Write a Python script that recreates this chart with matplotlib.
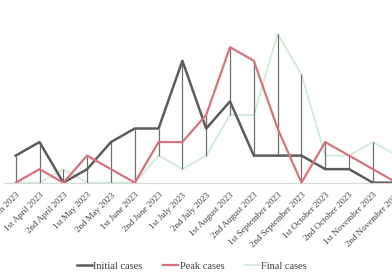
import matplotlib
matplotlib.use("Agg")
import matplotlib.pyplot as plt
import numpy as np

categories = ["2nd March 2023", "1st April 2023", "2nd April 2023", "1st May 2023",
              "2nd May 2023", "1st June 2023", "2nd June 2023", "1st July 2023",
              "2nd July 2023", "1st August 2023", "2nd August 2023",
              "1st September 2023", "2nd September 2023", "1st October 2023",
              "2nd October 2023", "1st November 2023", "2nd November 2023"]
initial_cases = [2, 3, 0, 1, 3, 4, 4, 9, 4, 6, 2, 2, 2, 1, 1, 0, 0]
peak_cases = [0, 1, 0, 2, 1, 0, 3, 3, 5, 10, 9, 4, 0, 3, 2, 1, 0]
final_cases = [0, 0, 1, 0, 0, 0, 2, 1, 2, 5, 5, 11, 8, 2, 2, 3, 2]

plt.rcParams['font.family'] = ['Liberation Serif', 'DejaVu Serif']

fig = plt.figure(figsize=(3.92, 2.72), dpi=100)
ax = fig.add_axes([3.8 / 392, 89.3 / 272, 404.8 / 392, 162.6 / 272])

x = np.arange(len(categories))
hi = np.maximum.reduce([initial_cases, peak_cases, final_cases])
lo = np.minimum.reduce([initial_cases, peak_cases, final_cases])
ax.vlines(x, lo, hi, color='#707070', linewidth=0.9, zorder=2)

ax.plot(x, final_cases, color='#d2ead8', linewidth=1.3, label='Final cases', zorder=1)
ax.plot(x, initial_cases, color='#5c5c5c', linewidth=1.8, label='Initial cases', zorder=3)
ax.plot(x, peak_cases, color='#d6737f', linewidth=1.6, label='Peak cases', zorder=4)

ax.set_xlim(-0.5, len(categories) - 0.5)
ax.set_ylim(0, 12)
ax.set_xticks(x)
ax.set_xticklabels(categories, rotation=45, ha='right', rotation_mode='anchor',
                   fontsize=6.5, color='#404040')
ax.tick_params(axis='x', length=0, pad=6)
ax.set_yticks([])
for s in ['top', 'right', 'left']:
    ax.spines[s].set_visible(False)
ax.spines['bottom'].set_color('#d9d9d9')
ax.spines['bottom'].set_linewidth(0.9)

handles, labels = ax.get_legend_handles_labels()
order = [1, 2, 0]
fig.legend([handles[i] for i in order], [labels[i] for i in order],
           loc='center', bbox_to_anchor=(192 / 392, 6 / 272), ncol=3, frameon=False,
           fontsize=7.5, handlelength=1.4, handletextpad=0.15, columnspacing=2.0,
           labelcolor='#404040')

fig.savefig('out.png', dpi=100)
